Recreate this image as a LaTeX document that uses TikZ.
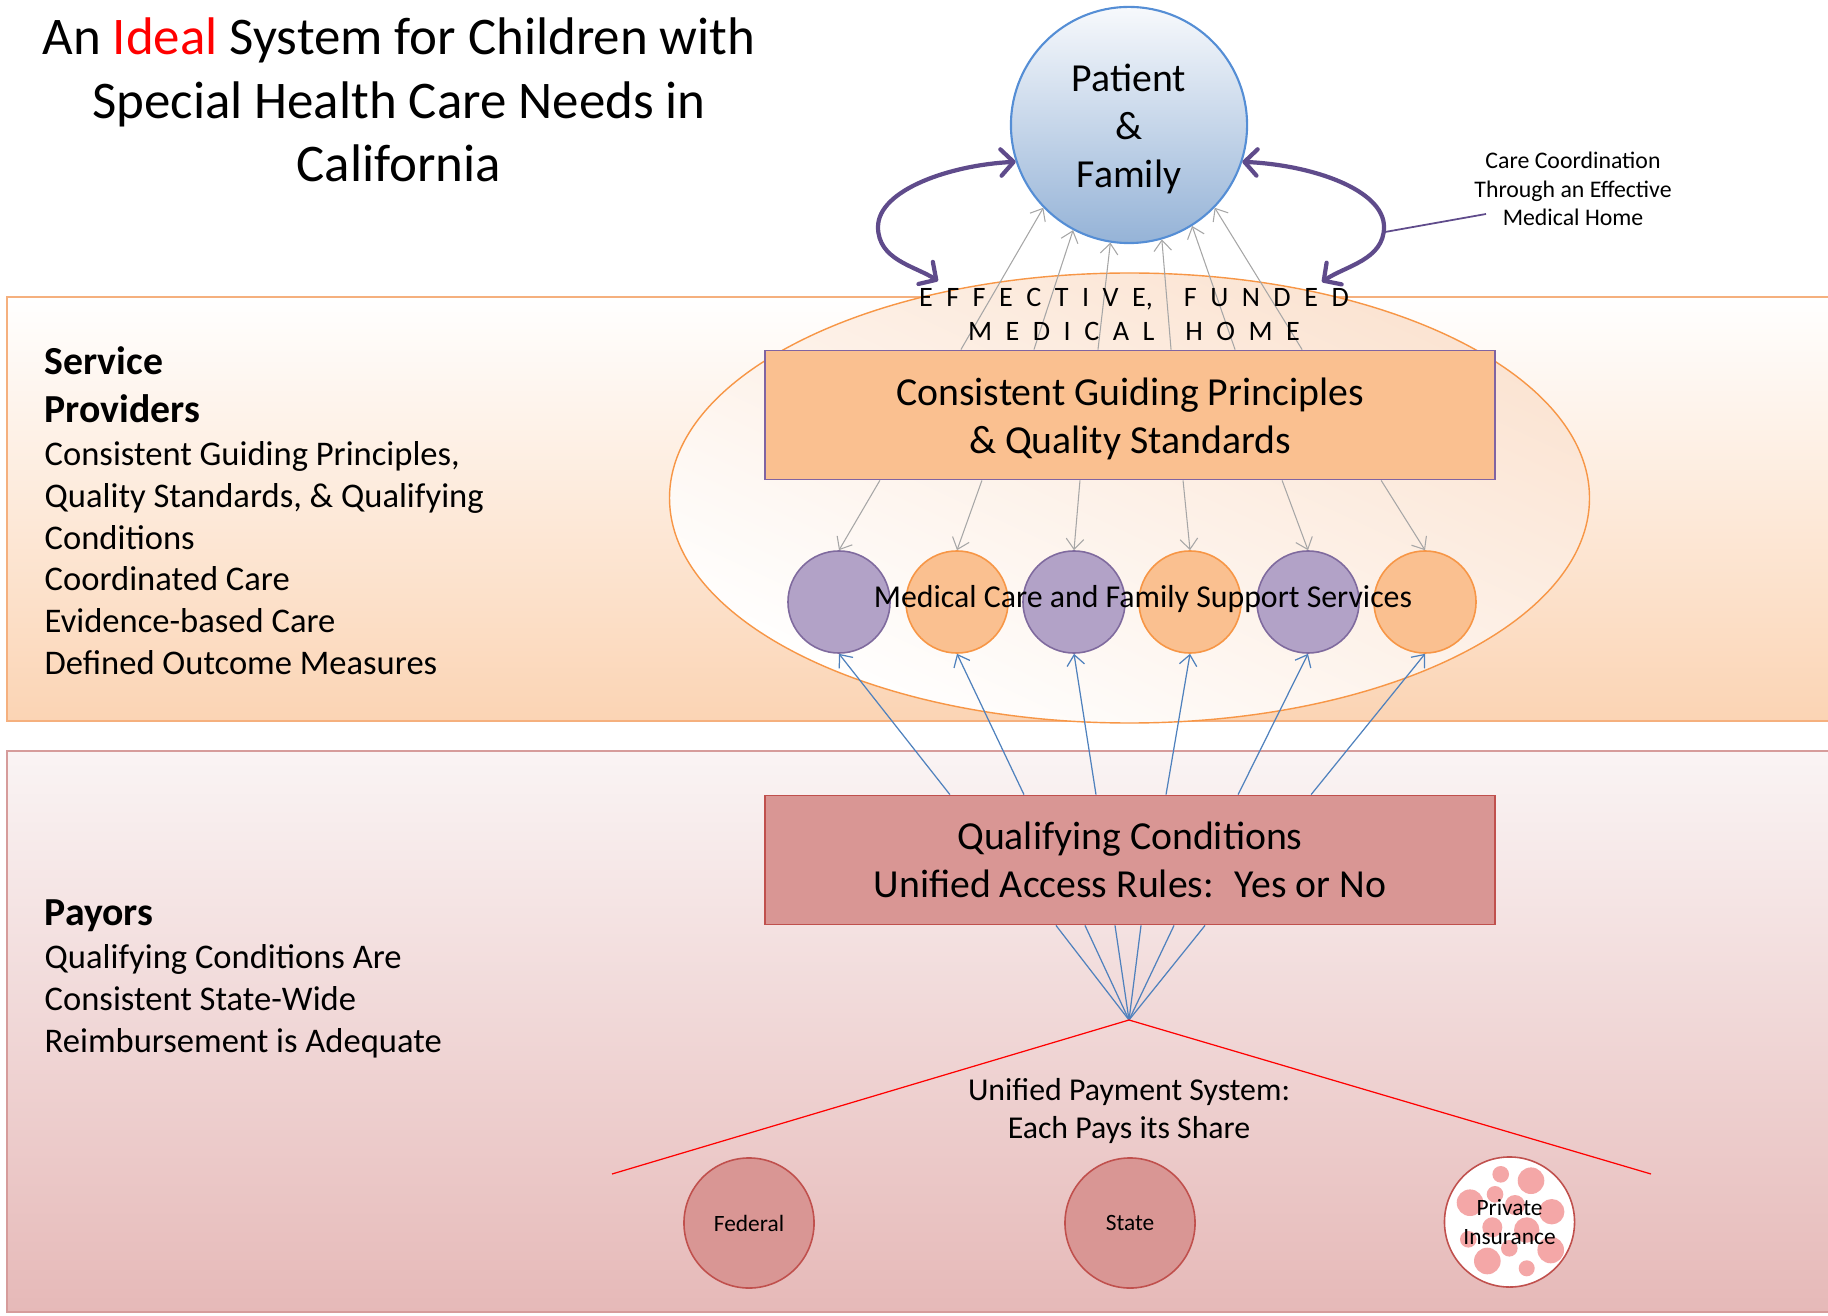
\documentclass[tikz,border=0pt]{standalone}
\usepackage{fontspec}
\setmainfont{Carlito}
\usetikzlibrary{positioning,arrows.meta}
\newcommand\lgap{\hspace{0.48em}}
\newcommand\tallstrut{\rule{0pt}{10pt}}

\definecolor{peach}{HTML}{FAC090}
\definecolor{peachedge}{HTML}{F79646}
\definecolor{lilac}{HTML}{B2A2C7}
\definecolor{lilacedge}{HTML}{7F6A9E}
\definecolor{boxedge}{HTML}{8064A2}
\definecolor{rose}{HTML}{D99694}
\definecolor{roseedge}{HTML}{C0504D}
\definecolor{dotpink}{HTML}{F4A7A7}
\definecolor{sky}{HTML}{95B3D7}
\definecolor{skytop}{HTML}{F7F9FC}
\definecolor{skyedge}{HTML}{558ED5}
\definecolor{plum}{HTML}{5F4B8B}
\definecolor{wire}{HTML}{4F81BD}
\definecolor{spokegray}{HTML}{A6A6A6}
\definecolor{band}{HTML}{FBD4B4}
\definecolor{bandedge}{HTML}{F5B07E}
\definecolor{pinkband}{HTML}{E6B9B8}
\definecolor{pinktop}{HTML}{FAF4F4}
\definecolor{pinkedge}{HTML}{D69C9B}
\definecolor{glow}{HTML}{FBE3D1}

\begin{document}
\begin{tikzpicture}[x=0.01cm,y=-0.01cm,
  title/.style={anchor=base,inner sep=0pt,font=\fontsize{15.05}{18}\selectfont},
  head/.style={anchor=base west,inner sep=0pt,font=\bfseries\fontsize{11.3}{13.7}\selectfont},
  item/.style={anchor=base west,inner sep=0pt,font=\fontsize{9.83}{11.8}\selectfont},
  spaced/.style={anchor=base,inner sep=0pt,font=\fontsize{8}{10}\selectfont},
  bigbox/.style={rectangle,minimum width=7.3cm,minimum height=1.29cm,line width=0.5pt,
    align=center,font=\fontsize{11.3}{13.66}\selectfont},
  svc/.style={circle,minimum size=1.02cm,inner sep=0pt,line width=0.45pt},
  payor/.style={circle,minimum size=1.3cm,inner sep=0pt,draw=roseedge,line width=0.45pt,
    align=center,font=\fontsize{6.65}{8.25}\selectfont},
  spoke/.style={draw=spokegray,line width=0.3pt,-{Straight Barb[length=3pt,width=5pt]}},
  feed/.style={draw=wire,line width=0.35pt,-{Straight Barb[length=3pt,width=5pt]}},
  fan/.style={draw=wire,line width=0.35pt},
  carearc/.style={draw=plum,line width=1.2pt,
    {Straight Barb[length=3.6pt,width=7.5pt,round]}-{Straight Barb[length=3.6pt,width=7.5pt,round]}}
]
\useasboundingbox (0,0) rectangle (1828,1316);

% bands
\shade[draw=bandedge,line width=0.5pt,top color=white,bottom color=band] (7,297) rectangle (1840,721);
\shade[draw=pinkedge,line width=0.5pt,top color=pinktop,bottom color=pinkband] (7,751) rectangle (1840,1312);

% medical home
\shade[draw=peachedge,line width=0.4pt,top color=glow,bottom color=white,shading angle=-25]
  (1129.5,498) ellipse [x radius=460,y radius=225];

\node[circle,minimum size=2.36cm,inner sep=0pt,draw=skyedge,line width=0.6pt,
  top color=skytop,bottom color=sky,align=center,font=\fontsize{11.3}{13.66}\selectfont]
  (pf) at (1129,125) {\tallstrut Patient\\\&\\Family};

\node[bigbox,fill=peach,draw=boxedge] (gp) at (1130,415)
  {\tallstrut Consistent Guiding Principles\\\& Quality Standards};

\foreach \s/\a in {-1.69/224,-0.96/242,-0.32/261,0.41/286,1.05/302,1.72/316}
  \draw[spoke] ([xshift=\s cm]gp.north) -- (pf.\a);

\node[spaced] (ef1) at (1134,307)
  {E\lgap F\lgap F\lgap E\lgap C\lgap T\lgap I\lgap V\lgap E,\hspace{1.1em}F\lgap U\lgap N\lgap D\lgap E\lgap D};
\node[spaced] (ef2) at (1134,341)
  {M\lgap E\lgap D\lgap I\lgap C\lgap A\lgap L\hspace{1.1em}H\lgap O\lgap M\lgap E};

% services
\foreach \x/\f/\d [count=\i] in {839/lilac/lilacedge,957/peach/peachedge,1074/lilac/lilacedge,
    1190/peach/peachedge,1308/lilac/lilacedge,1425/peach/peachedge}
  \node[svc,fill=\f,draw=\d] (c\i) at (\x,602) {};

\foreach \s [count=\i] in {-2.5,-1.48,-0.5,0.53,1.52,2.51}
  \draw[spoke] ([xshift=\s cm]gp.south) -- (c\i.north);

\node[font=\fontsize{9.05}{11}\selectfont,inner sep=0pt] (mc) at (1143,599)
  {Medical Care and Family Support Services};

% payors
\node[bigbox,fill=rose,draw=roseedge] (qc) at (1130,860)
  {Qualifying Conditions\\Unified Access Rules:~ Yes or No};

\foreach \s [count=\i] in {-1.8,-1.06,-0.34,0.36,1.08,1.81}
  \draw[feed] ([xshift=\s cm]qc.north) -- (c\i.south);

\coordinate (hub) at (1129,1020);
\foreach \s in {-0.74,-0.45,-0.15,0.11,0.44,0.75}
  \draw[fan] ([xshift=\s cm]qc.south) -- (hub);

\coordinate (rl) at (612,1174);
\coordinate (rr) at (1651,1174);
\draw[red,line width=0.35pt] (rl) -- (hub) -- (rr);

\node[align=center,inner sep=0pt,font=\fontsize{9.05}{10.8}\selectfont] (ups) at (1129,1111)
  {Unified Payment System:\\Each Pays its Share};

\node[payor,fill=rose] (fed) at (749,1223) {Federal};
\node[payor,fill=rose] (st) at (1130,1223) {State};
\node[payor,fill=white] (pi) at (1509.5,1222) {};
\foreach \x/\y/\r in {1500.7/1174.3/8.3,1531/1180.7/13.3,1495/1194.3/8.3,1470/1202.7/13.3,
    1515/1205/10,1551.7/1211.7/12.7,1492.3/1227.3/10,1526.7/1230/12.7,1468.3/1239.3/8.3,
    1509.3/1248.3/8.3,1550.7/1250/13.3,1487.3/1261/13.3,1526.7/1268.3/8}
  \fill[dotpink] (\x,\y) circle [radius=\r];
\node[align=center,inner sep=0pt,font=\fontsize{6.65}{8.25}\selectfont] (pit) at (pi)
  {Private\\Insurance};

% care coordination
\coordinate (lf) at (938,281);
\coordinate (rf) at (1322,282);
\draw[carearc] (pf.198) .. controls (950,165) and (878,190) .. (878,227)
  .. controls (878,260) and (915,266) .. (lf);
\draw[carearc] (pf.342) .. controls (1313,165) and (1384,190) .. (1384,227)
  .. controls (1384,260) and (1345,266) .. (rf);

\node[align=center,inner sep=0pt,font=\fontsize{6.77}{8.1}\selectfont] (cc) at (1573,189)
  {Care Coordination\\Through an Effective\\Medical Home};
\coordinate (ccfoot) at (1486,214);
\coordinate (arcr) at (1385,232);
\draw[plum,line width=0.5pt] (ccfoot) -- (arcr);

% title and side texts
\node[title] (t1) at (399,55) {An \textcolor{red}{Ideal} System for Children with};
\node[title] (t2) at (399,119) {Special Health Care Needs in};
\node[title] (t3) at (399,182) {California};

\node[head] (svchead) at (44,375) {Service};
\node[head] (provhead) at (44,423) {Providers};
\foreach \t [count=\i from 0] in {{Consistent Guiding Principles,},{Quality Standards, \& Qualifying},
    Conditions,Coordinated Care,Evidence-based Care,Defined Outcome Measures}
  \node[item] (sp\i) at (44,466+41.6*\i) {\t};

\node[head] (payhead) at (44,925) {Payors};
\foreach \t [count=\i from 0] in {Qualifying Conditions Are,Consistent State-Wide,Reimbursement is Adequate}
  \node[item] (py\i) at (44,968+42*\i) {\t};
\end{tikzpicture}
\end{document}
